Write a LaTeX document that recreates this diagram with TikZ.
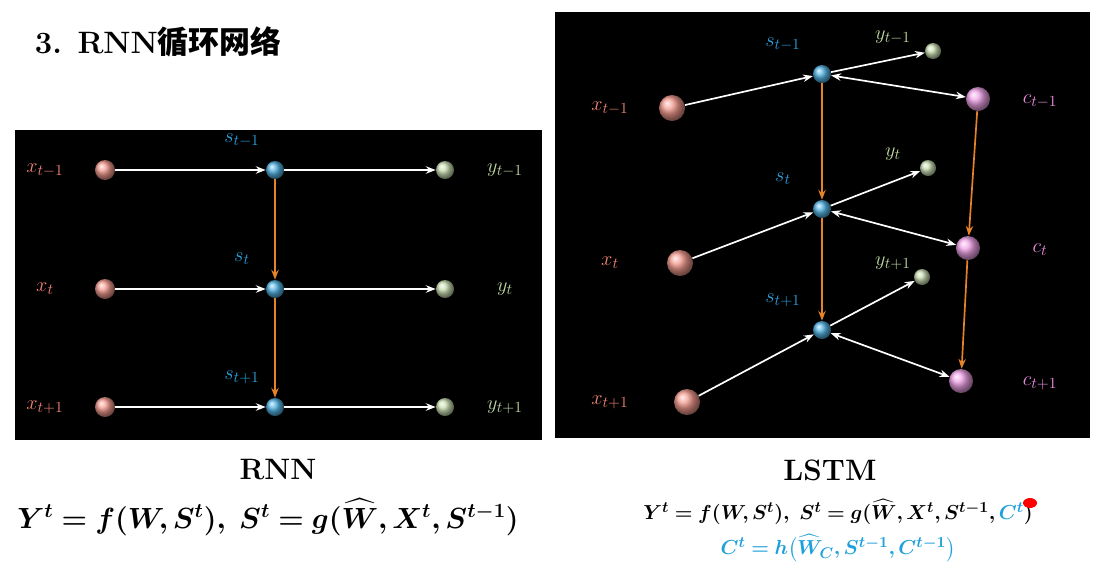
\documentclass[tikz,border=0pt]{standalone}
\usepackage{amsmath}
\usepackage{bm}
\usepackage{fontspec}
\newfontfamily\cjk{Noto Sans CJK SC}
\usetikzlibrary{arrows.meta}
\usetikzlibrary{positioning}
\definecolor{xcol}{RGB}{240,130,115}
\definecolor{scol}{RGB}{40,160,220}
\definecolor{ycol}{RGB}{190,215,160}
\definecolor{ccol}{RGB}{235,140,225}
\definecolor{arrcol}{RGB}{230,130,40}
\definecolor{formcyan}{RGB}{30,160,220}
\begin{document}
\begin{tikzpicture}
  [
    x=0.025cm,
    y=-0.025cm,
    ball/.style={
      circle,
      inner sep=0pt,
      minimum size=#1
    },
    xball/.style={ball=20*0.025cm,ball color=xcol!80!white},
    sball/.style={ball=18*0.025cm,ball color=scol!80!white},
    yball/.style={ball=18*0.025cm,ball color=ycol!80!white},
    cball/.style={ball=24*0.025cm,ball color=ccol!80!white},
    flow/.style={white,very thick,-{Stealth[length=7pt]}},
    both/.style={white,very thick,{Stealth[length=7pt]}-{Stealth[length=7pt]}},
    rec/.style={arrcol,very thick,-{Stealth[length=7pt]}},
    lab/.style={font=\fontsize{15}{18}\selectfont}
  ]
  \useasboundingbox [fill=white] (0,0) rectangle (1105,567);
  \node [anchor=west,font=\bfseries\fontsize{22}{26}\selectfont] (title) at (30,42) {3. RNN{\cjk\bfseries 循环网络}};
  % panels
  \fill [black] (15,130) rectangle (542,440);
  \fill [black] (555,12) rectangle (1090,438);
  % RNN
  \foreach \i/\py/\tx in {1/170/{t-1},2/289/t,3/407/{t+1}}{
    \node [xball] (rx\i) at (105,\py) {};
    \node [sball] (rs\i) at (275,\py) {};
    \node [yball] (ry\i) at (445,\py) {};
    \node [lab,text=xcol] (rxl\i) at (45,\py) {$x_{\tx}$};
    \node [lab,text=ycol] (ryl\i) at (505,\py) {$y_{\tx}$};
    \node [lab,text=scol] (rsl\i) at (242,\py-30) {$s_{\tx}$};
    \draw [flow] (rx\i) -- (rs\i);
    \draw [flow] (rs\i) -- (ry\i);
  }
  \draw [rec] (rs1) -- (rs2);
  \draw [rec] (rs2) -- (rs3);
  % LSTM
  \foreach \i/\xx/\xy/\sy/\yx/\yy/\cx/\cy/\tx in
    {1/672/108/74/933/51/978/99/{t-1},2/680/263/209/928/168/968/248/t,3/687/402/330/922/277/961/381/{t+1}}{
    \node [xball,minimum size=26*0.025cm] (lx\i) at (\xx,\xy) {};
    \node [sball] (ls\i) at (822,\sy) {};
    \node [yball,minimum size=16*0.025cm] (ly\i) at (\yx,\yy) {};
    \node [cball] (lc\i) at (\cx,\cy) {};
    \node [lab,text=xcol] (lxl\i) at (610,\xy) {$x_{\tx}$};
    \node [lab,text=ycol] (lyl\i) at (893,\yy-14) {$y_{\tx}$};
    \node [lab,text=ccol] (lcl\i) at (1040,\cy+2) {$c_{\tx}$};
    \node [lab,text=scol] (lsl\i) at (783,\sy-30) {$s_{\tx}$};
    \draw [flow] (lx\i) -- (ls\i);
    \draw [flow] (ls\i) -- (ly\i);
    \draw [both] (ls\i) -- (lc\i);
  }
  \draw [rec] (ls1) -- (ls2);
  \draw [rec] (ls2) -- (ls3);
  \draw [rec] (lc1) -- (lc2);
  \draw [rec] (lc2) -- (lc3);
  % captions
  \node [font=\bfseries\fontsize{21}{24}\selectfont] (rnncap) at (278,470) {RNN};
  \node [font=\fontsize{20}{24}\selectfont] (rnnform) at (268,517)
    {$\bm{Y^t=f(W,S^t),\ S^t=g(\widehat{W},X^t,S^{t-1})}$};
  \node [font=\bfseries\fontsize{21}{24}\selectfont] (lstmcap) at (830,470) {LSTM};
  \node [font=\fontsize{15}{18}\selectfont] (lstmform) at (838,512)
    {$\bm{Y^t=f(W,S^t),\ S^t=g(\widehat{W},X^t,S^{t-1},{\color{formcyan}C^t})}$};
  \node [font=\fontsize{15}{18}\selectfont,text=formcyan] (cform) at (838,548)
    {$\bm{C^t=h\big(\widehat{W}_C,S^{t-1},C^{t-1}\big)}$};
  \fill [red] (1030,503) ellipse (7 and 5);
\end{tikzpicture}
\end{document}
